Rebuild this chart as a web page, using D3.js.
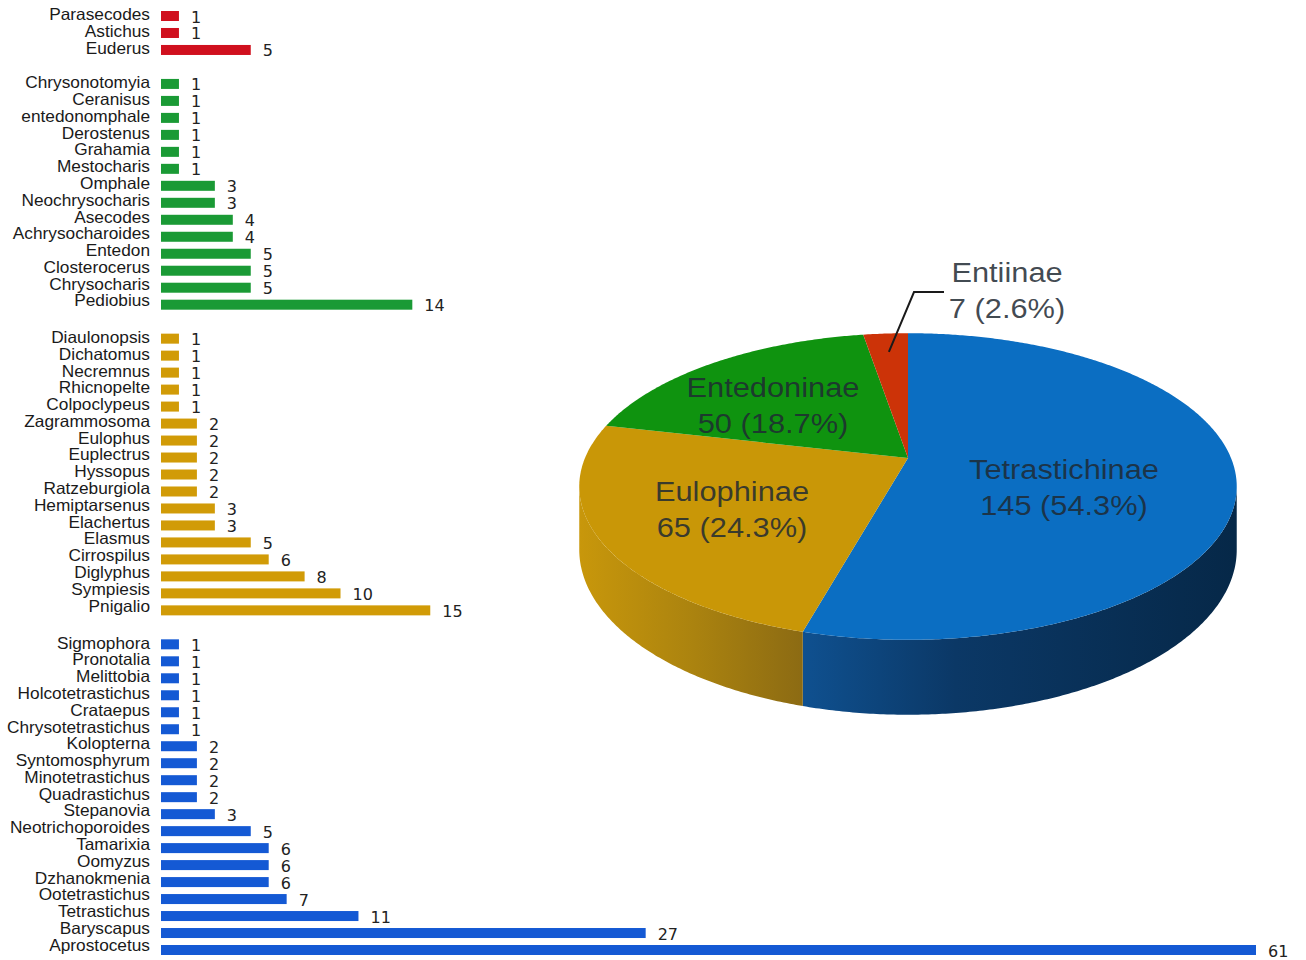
<!DOCTYPE html>
<html>
<head>
<meta charset="utf-8">
<script src="https://cdn.jsdelivr.net/npm/d3@7"></script>
<style>
  html, body { margin: 0; padding: 0; background: #ffffff; }
  svg { display: block; }
</style>
</head>
<body>
<svg id="chart" width="1306" height="960"></svg>
<script>
// ---------------- DATA ----------------
const entiinaeGenera = ["Parasecodes", "Astichus", "Euderus"];
const entiinaeCounts = [1, 1, 5];

const entedoninaeGenera = ["Chrysonotomyia", "Ceranisus", "entedonomphale", "Derostenus", "Grahamia",
  "Mestocharis", "Omphale", "Neochrysocharis", "Asecodes", "Achrysocharoides", "Entedon",
  "Closterocerus", "Chrysocharis", "Pediobius"];
const entedoninaeCounts = [1, 1, 1, 1, 1, 1, 3, 3, 4, 4, 5, 5, 5, 14];

const eulophinaeGenera = ["Diaulonopsis", "Dichatomus", "Necremnus", "Rhicnopelte", "Colpoclypeus",
  "Zagrammosoma", "Eulophus", "Euplectrus", "Hyssopus", "Ratzeburgiola", "Hemiptarsenus",
  "Elachertus", "Elasmus", "Cirrospilus", "Diglyphus", "Sympiesis", "Pnigalio"];
const eulophinaeCounts = [1, 1, 1, 1, 1, 2, 2, 2, 2, 2, 3, 3, 5, 6, 8, 10, 15];

const tetrastichinaeGenera = ["Sigmophora", "Pronotalia", "Melittobia", "Holcotetrastichus", "Crataepus",
  "Chrysotetrastichus", "Kolopterna", "Syntomosphyrum", "Minotetrastichus", "Quadrastichus",
  "Stepanovia", "Neotrichoporoides", "Tamarixia", "Oomyzus", "Dzhanokmenia", "Ootetrastichus",
  "Tetrastichus", "Baryscapus", "Aprostocetus"];
const tetrastichinaeCounts = [1, 1, 1, 1, 1, 1, 2, 2, 2, 2, 3, 5, 6, 6, 6, 7, 11, 27, 61];

const subfamilies = ["Tetrastichinae", "Eulophinae", "Entedoninae", "Entiinae"];
const subfamilyCounts = [145, 65, 50, 7];

// ---------------- STYLE / LAYOUT ----------------
const barColors = ["#d0101e", "#1a9a35", "#d19b07", "#1459d4"];
const topColors = {Tetrastichinae: "#0b6ec2", Eulophinae: "#c99707", Entedoninae: "#0f930f", Entiinae: "#cc3308"};

const svg = d3.select("#chart");
const defs = svg.append("defs");

// ---------------- BAR CHART ----------------
const groups = [
  {names: entiinaeGenera, values: entiinaeCounts},
  {names: entedoninaeGenera, values: entedoninaeCounts},
  {names: eulophinaeGenera, values: eulophinaeCounts},
  {names: tetrastichinaeGenera, values: tetrastichinaeCounts}
];
const rows = [];
let slot = 0;
groups.forEach((g, gi) => {
  g.names.forEach((n, i) => {
    rows.push({name: n, value: g.values[i], group: gi, idx: i, slot: slot});
    slot++;
  });
  slot++; // gap between groups
});
const maxSlot = slot - 2;

const x = d3.scaleLinear().domain([0, 61]).range([161, 1256]);
const y = d3.scaleLinear().domain([0, maxSlot]).range([16, 950]);
const barH = 10;

const bars = svg.append("g");
bars.selectAll("rect").data(rows).join("rect")
  .attr("x", x(0))
  .attr("y", d => y(d.slot) - barH / 2)
  .attr("width", d => x(d.value) - x(0))
  .attr("height", barH)
  .attr("fill", d => barColors[d.group]);

bars.selectAll("text.name").data(rows).join("text")
  .attr("class", "name")
  .attr("transform", d => `translate(150,${y(d.slot) - 1 - 0.2 * d.idx}) scale(1.06,1)`)
  .attr("text-anchor", "end")
  .attr("dominant-baseline", "central")
  .attr("font-family", "'Liberation Sans', Arial, sans-serif")
  .attr("font-size", 16.3)
  .attr("fill", "#1a1a1a")
  .text(d => d.name);

bars.selectAll("text.val").data(rows).join("text")
  .attr("class", "val")
  .attr("x", d => x(d.value) + 12)
  .attr("y", d => y(d.slot) + 1)
  .attr("dominant-baseline", "central")
  .attr("font-family", "'DejaVu Sans', sans-serif")
  .attr("font-size", 16)
  .attr("fill", "#222")
  .text(d => d.value);

// ---------------- 3D PIE ----------------
const P = {X0: 908, Y0: 458, A: 323, B: 148, k: 0.186, D: 61};
function proj(theta, r, down) {
  const px = r * Math.sin(theta), pz = -r * Math.cos(theta);
  const w = 1 - P.k * pz;
  return [P.X0 + P.A * px / w, P.Y0 + (P.B * pz + down) / w];
}
function arcPts(a0, a1, r, down) {
  const n = Math.max(2, Math.ceil(Math.abs(a1 - a0) / (Math.PI / 360)));
  return d3.range(n + 1).map(i => proj(a0 + (a1 - a0) * i / n, r, down));
}
const line = d3.line();

const pieData = d3.pie().sort(null).value(d => d.v)(subfamilies.map((s, i) => ({name: s, v: subfamilyCounts[i]})));
const total = d3.sum(subfamilyCounts);

// side gradients
const gBlue = defs.append("linearGradient").attr("id", "sideBlue")
  .attr("gradientUnits", "userSpaceOnUse").attr("x1", 805).attr("x2", 1235).attr("y1", 0).attr("y2", 0);
gBlue.append("stop").attr("offset", 0).attr("stop-color", "#0f508f");
gBlue.append("stop").attr("offset", 0.35).attr("stop-color", "#0b3866");
gBlue.append("stop").attr("offset", 1).attr("stop-color", "#062848");
const gGold = defs.append("linearGradient").attr("id", "sideGold")
  .attr("gradientUnits", "userSpaceOnUse").attr("x1", 580).attr("x2", 806).attr("y1", 0).attr("y2", 0);
gGold.append("stop").attr("offset", 0).attr("stop-color", "#c8970b");
gGold.append("stop").attr("offset", 0.5).attr("stop-color", "#ab830f");
gGold.append("stop").attr("offset", 1).attr("stop-color", "#8b6a13");
const sideFill = {Tetrastichinae: "url(#sideBlue)", Eulophinae: "url(#sideGold)", Entedoninae: "#0a6a0a", Entiinae: "#992606"};

const thL = Math.acos(-P.k), thR = 2 * Math.PI - Math.acos(-P.k);
const pie = svg.append("g");
pieData.forEach(d => {
  const a0 = Math.max(d.startAngle, thL), a1 = Math.min(d.endAngle, thR);
  if (a0 < a1) {
    const pts = arcPts(a0, a1, 1, 0).concat(arcPts(a1, a0, 1, P.D));
    pie.append("path").attr("d", line(pts) + "Z").attr("fill", sideFill[d.data.name]);
  }
});
pieData.forEach(d => {
  const pts = [proj(0, 0, 0)].concat(arcPts(d.startAngle, d.endAngle, 1, 0));
  pie.append("path").attr("d", line(pts) + "Z").attr("fill", topColors[d.data.name]);
});

// labels
const labelPos = {Tetrastichinae: [1064, 479], Eulophinae: [732, 501], Entedoninae: [773, 397], Entiinae: [1007, 282]};
const fmtPct = d3.format(".1f");
pieData.forEach(d => {
  const [lx, ly] = labelPos[d.data.name];
  const g = pie.append("g").attr("transform", `translate(${lx},${ly}) scale(1.1,1)`)
    .attr("font-family", "'Liberation Sans', Arial, sans-serif")
    .attr("font-size", 28).attr("text-anchor", "middle")
    .attr("fill", "#1f2a33").attr("fill-opacity", 0.85);
  g.append("text").attr("x", 0).attr("y", 0).text(d.data.name);
  g.append("text").attr("x", 0).attr("y", 36)
    .text(`${d.data.v} (${fmtPct(d.data.v / total * 100)}%)`);
});

// leader line for Entiinae
const ent = pieData[3];
const lp = proj((ent.startAngle + ent.endAngle) / 2, 0.83, 0);
pie.append("path")
  .attr("d", line([lp, [914, 292], [944, 292]]))
  .attr("fill", "none").attr("stroke", "#1a1a1a").attr("stroke-width", 2);
</script>
</body>
</html>
